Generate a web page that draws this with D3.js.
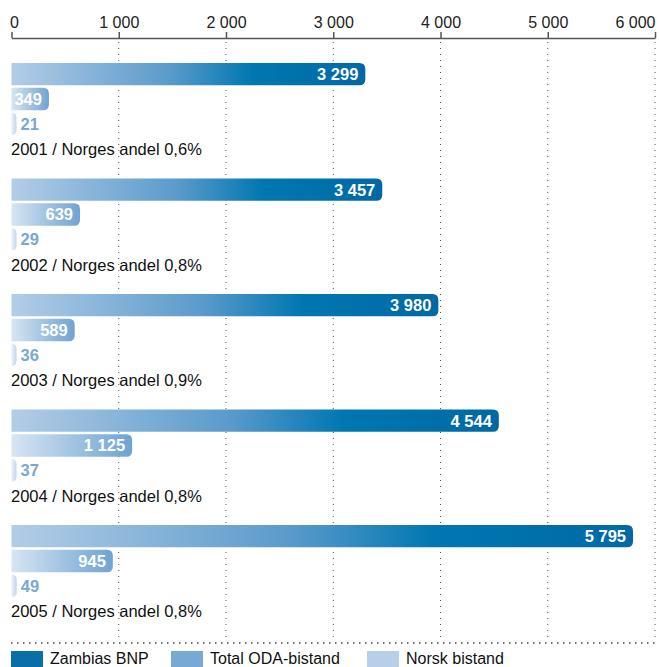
<!DOCTYPE html>
<meta charset="utf-8">
<style>
  body { margin: 0; background: #fff; }
  text { font-family: "Liberation Sans", Arial, sans-serif; }
</style>
<div id="chart"></div>
<script src="https://d3js.org/d3.v7.min.js"></script>
<script>

// data
var years = ["2001", "2002", "2003", "2004", "2005"];
var shares = ["0,6%", "0,8%", "0,9%", "0,8%", "0,8%"];
var series = ["Zambias BNP", "Total ODA-bistand", "Norsk bistand"];
var bnp = [3299, 3457, 3980, 4544, 5795];
var oda = [349, 639, 589, 1125, 945];
var norsk = [21, 29, 36, 37, 49];
var tickValues = [0, 1000, 2000, 3000, 4000, 5000, 6000];

var width = 659, height = 667;

var svg = d3.select("#chart").append("svg")
    .attr("width", width)
    .attr("height", height);

var x = d3.scaleLinear().domain([0, 6000]).range([11.5, 655]);

var y = d3.scaleBand().domain(years).range([63, 640.5]).paddingInner(0).paddingOuter(0);
var ySub = d3.scaleBand().domain(series).range([0, 72]).paddingInner(0.1);

var fmt = function(v) { return d3.format(",")(v).replace(/,/g, " "); };

// gradients, one per series
var gradStops = [
  [["0%", "#b3cde7"], ["45%", "#5a9acb"], ["68%", "#0077b1"], ["100%", "#0069a4"]],
  [["0%", "#d6e5f3"], ["100%", "#6fa3d2"]],
  [["0%", "#eaf1f9"], ["100%", "#c1d6ec"]]
];
var defs = svg.append("defs");
gradStops.forEach(function(stops, i) {
  var g = defs.append("linearGradient").attr("id", "grad" + i)
      .attr("x1", "0%").attr("x2", "100%").attr("y1", "0%").attr("y2", "0%");
  stops.forEach(function(s) {
    g.append("stop").attr("offset", s[0]).attr("stop-color", s[1]);
  });
});
var legendColors = ["#0a6fa8", "#78a8d4", "#b7cfe8"];
var labelColors = ["#fff", "#fff", "#78a8d4"];

// dotted grid lines
svg.append("g").selectAll("line")
  .data(tickValues.slice(1))
  .enter().append("line")
    .attr("x1", function(d) { return x(d); })
    .attr("x2", function(d) { return x(d); })
    .attr("y1", 42)
    .attr("y2", 640)
    .attr("stroke", "#555")
    .attr("stroke-width", 1)
    .attr("stroke-dasharray", "1,5");

// axis at top, ticks pointing up
var axis = svg.append("g")
    .attr("transform", "translate(0,38)")
    .call(d3.axisTop(x).tickValues(tickValues).tickSize(6).tickSizeOuter(0).tickFormat(fmt));
axis.select(".domain").attr("stroke", "#555").attr("stroke-width", 1.5);
axis.selectAll(".tick line").attr("stroke", "#555").attr("stroke-width", 1.5);
axis.selectAll(".tick text")
    .attr("y", -10)
    .attr("fill", "#222")
    .style("font-family", "'Liberation Sans', Arial, sans-serif")
    .style("font-size", "16px")
    .attr("text-anchor", function(d, i) { return i === 0 ? "start" : (i === tickValues.length - 1 ? "end" : "middle"); })
    .attr("dx", function(d, i) { return i === 0 ? -2 : 0; });

// bars: square left end, rounded right end
function barPath(x0, x1, y0, h) {
  var r = Math.min(6, h / 2);
  var w = Math.max(x1 - x0, 5);
  var xe = x0 + w;
  var rr = Math.min(r, w);
  return "M" + x0 + "," + y0 +
    "H" + (xe - rr) +
    "Q" + xe + "," + y0 + " " + xe + "," + (y0 + rr) +
    "V" + (y0 + h - rr) +
    "Q" + xe + "," + (y0 + h) + " " + (xe - rr) + "," + (y0 + h) +
    "H" + x0 + "Z";
}

var allValues = [bnp, oda, norsk];
var groups = svg.append("g").selectAll("g")
  .data(years)
  .enter().append("g")
    .attr("transform", function(d) { return "translate(0," + y(d) + ")"; });

groups.each(function(year, gi) {
  var g = d3.select(this);
  series.forEach(function(s, si) {
    var v = allValues[si][gi];
    var yy = ySub(s);
    var h = ySub.bandwidth();
    g.append("path")
      .attr("d", barPath(x(0), x(v), yy, h))
      .attr("fill", "url(#grad" + si + ")");
    var inside = si < 2;
    var xend = x(0) + Math.max(x(v) - x(0), 5);
    g.append("text")
      .attr("x", inside ? xend - 7 : xend + 4)
      .attr("y", yy + h / 2)
      .attr("dy", "0.36em")
      .attr("text-anchor", inside ? "end" : "start")
      .attr("fill", labelColors[si])
      .style("font-size", "16.5px")
      .style("font-weight", "bold")
      .text(fmt(v));
  });
  g.append("text")
    .attr("x", 11)
    .attr("y", 92)
    .attr("fill", "#111")
    .style("font-size", "16.5px")
    .text(year + " / Norges andel " + shares[gi]);
});

// bottom dotted rule
svg.append("line")
  .attr("x1", 11).attr("x2", 659)
  .attr("y1", 643).attr("y2", 643)
  .attr("stroke", "#444")
  .attr("stroke-width", 1.5)
  .attr("stroke-dasharray", "1.5,4.5");

// legend
var legendX = [11, 171, 367];
var legend = svg.append("g").selectAll("g")
  .data(series)
  .enter().append("g")
    .attr("transform", function(d, i) { return "translate(" + legendX[i] + ",651)"; });
legend.append("rect")
  .attr("width", 32).attr("height", 16)
  .attr("fill", function(d, i) { return legendColors[i]; });
legend.append("text")
  .attr("x", 39)
  .attr("y", 13)
  .attr("fill", "#111")
  .style("font-size", "16px")
  .text(function(d) { return d; });

</script>
